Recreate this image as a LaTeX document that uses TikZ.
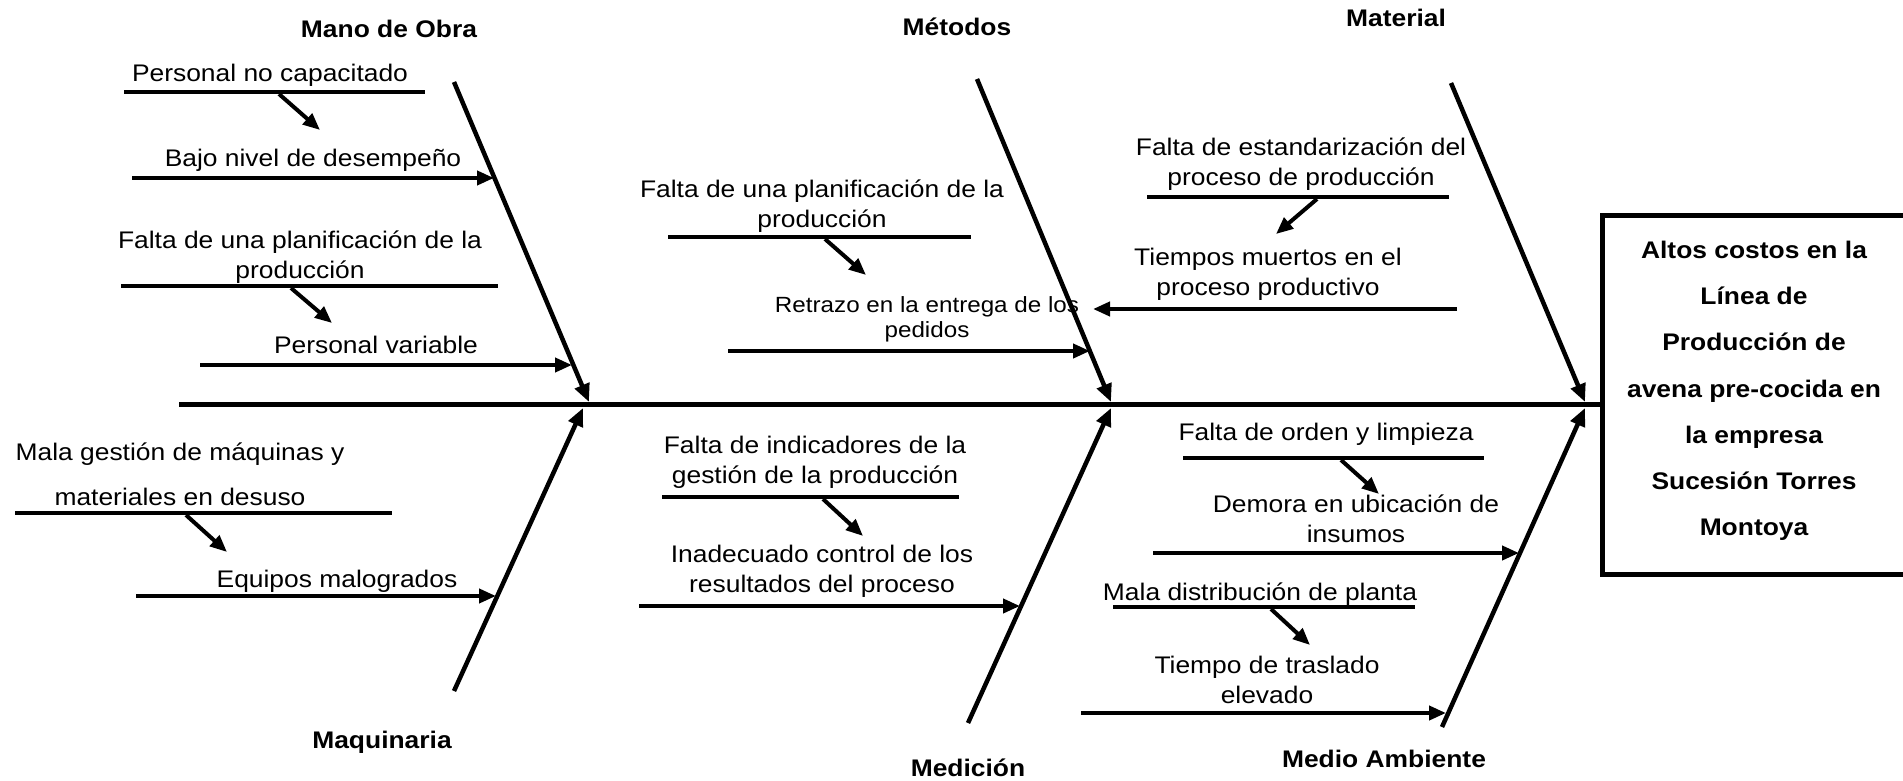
\documentclass[tikz,border=0pt]{standalone}
\usepackage{fontspec}
\setmainfont{Liberation Sans}[FakeStretch=1.1]
\usetikzlibrary{arrows.meta}
\begin{document}
\begin{tikzpicture}[x=1pt,y=-1pt,
  every node/.style={inner sep=0pt, outer sep=0pt},
  lbl/.style={font=\fontsize{24}{30}\selectfont, align=center, anchor=base},
  mlbl/.style={font=\fontsize{24}{30}\selectfont, align=center, anchor=north},
  cat/.style={font=\fontsize{24}{28}\selectfont\bfseries, anchor=base},
  bar/.style={line width=4pt},
  arr/.style={line width=4pt, -{Triangle[length=17pt,width=14pt]}},
  spine/.style={line width=4.5pt, -{Triangle[length=18pt,width=15pt]}},
]
\useasboundingbox[fill=white] (0,0) rectangle (1903,781);

% category titles
\node[cat] (tMO)  at (389,38)  {Mano de Obra};
\node[cat] (tMet) at (957,36)  {Métodos};
\node[cat] (tMat) at (1396,27) {Material};
\node[cat] (tMaq) at (382,748) {Maquinaria};
\node[cat] (tMed) at (968,776) {Medición};
\node[cat] (tMA)  at (1384,767) {Medio Ambiente};

% effect box
\node[draw, line width=5pt, minimum width=305.5pt, minimum height=358.5pt] (effect) at (1755,394.75) {};
\node[font=\fontsize{24}{46.3}\selectfont\bfseries, align=center, anchor=north] (effectText) at (1754,240.8)
  {Altos costos en la\\Línea de\\Producción de\\avena pre-cocida en\\la empresa\\Sucesión Torres\\Montoya};

% main line
\coordinate (head) at (179,404);
\draw[line width=5pt] (head) -- (head -| effect.west);

% spines
\coordinate (moA) at (454,82);   \coordinate (moB) at (589,402);
\coordinate (meA) at (977,79);   \coordinate (meB) at (1111,402);
\coordinate (maA) at (1451,83);  \coordinate (maB) at (1585,402);
\coordinate (mqA) at (454,691);  \coordinate (mqB) at (583,408);
\coordinate (mdA) at (968,723);  \coordinate (mdB) at (1111,408);
\coordinate (mbA) at (1442,727); \coordinate (mbB) at (1585,408);
\draw[spine] (moA) -- (moB);
\draw[spine] (meA) -- (meB);
\draw[spine] (maA) -- (maB);
\draw[spine] (mqA) -- (mqB);
\draw[spine] (mdA) -- (mdB);
\draw[spine] (mbA) -- (mbB);

% ---------- Mano de Obra ----------
\node[lbl] (c1) at (270,82) {Personal no capacitado};
\coordinate (b1a) at (124,92); \coordinate (b1b) at (425,92);
\draw[bar] (b1a) -- (b1b);
\coordinate (s1a) at (279,94); \coordinate (s1b) at (320,130);
\draw[arr] (s1a) -- (s1b);

\node[lbl] (c2) at (313,167) {Bajo nivel de desempeño};
\coordinate (b2a) at (132,178); \coordinate (b2b) at (494,178);
\draw[arr] (b2a) -- (b2b);

\node[mlbl] (c3) at (300,230.8) {Falta de una planificación de la\\producción};
\coordinate (b3a) at (121,286); \coordinate (b3b) at (498,286);
\draw[bar] (b3a) -- (b3b);
\coordinate (s3a) at (291,288); \coordinate (s3b) at (332,323);
\draw[arr] (s3a) -- (s3b);

\node[lbl] (c4) at (376,353) {Personal variable};
\coordinate (b4a) at (200,365); \coordinate (b4b) at (572,365);
\draw[arr] (b4a) -- (b4b);

% ---------- Maquinaria ----------
\node[mlbl, font=\fontsize{24}{45}\selectfont] (c5) at (180,442.8) {Mala gestión de máquinas y\\materiales en desuso};
\coordinate (b5a) at (15,513); \coordinate (b5b) at (392,513);
\draw[bar] (b5a) -- (b5b);
\coordinate (s5a) at (186,515); \coordinate (s5b) at (227,552);
\draw[arr] (s5a) -- (s5b);

\node[lbl] (c6) at (337,587) {Equipos malogrados};
\coordinate (b6a) at (136,596); \coordinate (b6b) at (496,596);
\draw[arr] (b6a) -- (b6b);

% ---------- Métodos ----------
\node[mlbl] (c7) at (822,179.8) {Falta de una planificación de la\\producción};
\coordinate (b7a) at (668,237); \coordinate (b7b) at (971,237);
\draw[bar] (b7a) -- (b7b);
\coordinate (s7a) at (825,239); \coordinate (s7b) at (866,275);
\draw[arr] (s7a) -- (s7b);

\node[mlbl, font=\fontsize{22}{25}\selectfont] (c8) at (927,296.2) {Retrazo en la entrega de los\\pedidos};
\coordinate (b8a) at (728,351); \coordinate (b8b) at (1090,351);
\draw[arr] (b8a) -- (b8b);

% ---------- Material ----------
\node[mlbl] (c9) at (1301,137.8) {Falta de estandarización del\\proceso de producción};
\coordinate (b9a) at (1147,197); \coordinate (b9b) at (1449,197);
\draw[bar] (b9a) -- (b9b);
\coordinate (s9a) at (1317,199); \coordinate (s9b) at (1276,234);
\draw[arr] (s9a) -- (s9b);

\node[mlbl] (c10) at (1268,247.8) {Tiempos muertos en el\\proceso productivo};
\coordinate (b10a) at (1457,309); \coordinate (b10b) at (1093,309);
\draw[arr] (b10a) -- (b10b);

% ---------- Medición ----------
\node[mlbl] (c11) at (815,435.8) {Falta de indicadores de la\\gestión de la producción};
\coordinate (b11a) at (662,497); \coordinate (b11b) at (959,497);
\draw[bar] (b11a) -- (b11b);
\coordinate (s11a) at (823,499); \coordinate (s11b) at (863,536);
\draw[arr] (s11a) -- (s11b);

\node[mlbl] (c12) at (822,544.8) {Inadecuado control de los\\resultados del proceso};
\coordinate (b12a) at (639,606); \coordinate (b12b) at (1020,606);
\draw[arr] (b12a) -- (b12b);

% ---------- Medio Ambiente ----------
\node[lbl] (c13) at (1326,440) {Falta de orden y limpieza};
\coordinate (b13a) at (1183,458); \coordinate (b13b) at (1484,458);
\draw[bar] (b13a) -- (b13b);
\coordinate (s13a) at (1341,460); \coordinate (s13b) at (1379,494);
\draw[arr] (s13a) -- (s13b);

\node[mlbl] (c14) at (1356,494.8) {Demora en ubicación de\\insumos};
\coordinate (b14a) at (1153,553); \coordinate (b14b) at (1519,553);
\draw[arr] (b14a) -- (b14b);

\node[lbl] (c15) at (1260,600) {Mala distribución de planta};
\coordinate (b15a) at (1113,607); \coordinate (b15b) at (1415,607);
\draw[bar] (b15a) -- (b15b);
\coordinate (s15a) at (1271,609); \coordinate (s15b) at (1310,645);
\draw[arr] (s15a) -- (s15b);

\node[mlbl] (c16) at (1267,655.8) {Tiempo de traslado\\elevado};
\coordinate (b16a) at (1081,713); \coordinate (b16b) at (1446,713);
\draw[arr] (b16a) -- (b16b);

\end{tikzpicture}
\end{document}
